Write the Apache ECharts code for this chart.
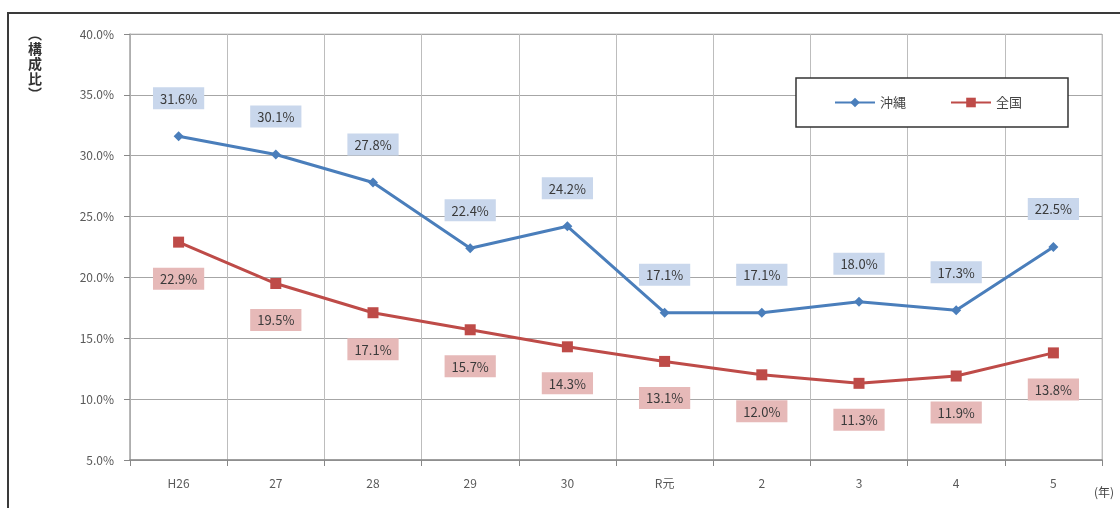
<!DOCTYPE html>
<html><head><meta charset="utf-8">
<script src="https://cdn.jsdelivr.net/npm/echarts@6/dist/echarts.min.js"></script>
<style>html,body{margin:0;padding:0;background:#fff}#c{width:1120px;height:508px}</style>
</head><body><div id="c"></div>
<script>
const categories = ['H26','27','28','29','30','R元','2','3','4','5'];
const okinawa = [31.6,30.1,27.8,22.4,24.2,17.1,17.1,18.0,17.3,22.5];
const zenkoku = [22.9,19.5,17.1,15.7,14.3,13.1,12.0,11.3,11.9,13.8];
const seriesNames = ['沖縄','全国'];
const yTicks = {min:5, max:40, interval:5};

const font = '"Noto Sans CJK JP", "Noto Sans", sans-serif';
const chart = echarts.init(document.getElementById('c'), null, {renderer:'canvas'});
chart.setOption({
  animation:false,
  textStyle:{fontFamily:font},
  grid:{left:130, right:18, top:34, bottom:48, show:true, borderColor:'#c8c8c8', borderWidth:1, outerBoundsMode:'none', containLabel:false},
  legend:{
    data:[{name:seriesNames[0]},{name:seriesNames[1]}],
    right:52, top:78, padding:[18,46,18,38],
    borderColor:'#333', borderWidth:1.5, backgroundColor:'#fff',
    itemGap:44, itemWidth:40, itemHeight:12,
    textStyle:{fontSize:13, color:'#444', fontFamily:font}
  },
  xAxis:{
    type:'category', data:categories, boundaryGap:true,
    axisLine:{lineStyle:{color:'#888', width:1.5}},
    axisTick:{show:true, length:6, lineStyle:{color:'#888'}},
    axisLabel:{color:'#595959', fontSize:12, margin:17},
    splitLine:{show:true, lineStyle:{color:'#bdbdbd', width:1}},
    name:'(年)', nameLocation:'end', nameGap:0,
    nameTextStyle:{color:'#444', fontSize:12, padding:[26,0,0,-8], align:'left', verticalAlign:'top'}
  },
  yAxis:{
    type:'value', min:yTicks.min, max:yTicks.max, interval:yTicks.interval,
    axisLine:{show:true, lineStyle:{color:'#aaa', width:1.5}},
    axisTick:{show:true, length:6, lineStyle:{color:'#888'}},
    axisLabel:{color:'#595959', fontSize:12, margin:16, formatter:v=>v.toFixed(1)+'%'},
    splitLine:{show:true, lineStyle:{color:'#a6a6a6', width:1}}
  },
  graphic:[
    {type:'rect', shape:{x:8,y:13,width:1140,height:520}, style:{fill:'none', stroke:'#3a3a3a', lineWidth:2}, silent:true},
    {type:'text', left:28, top:26, style:{text:'︵\n構\n成\n比\n︶', fontSize:14, fontWeight:'bold', lineHeight:15, fill:'#333', fontFamily:font}}
  ],
  series:[
    {
      name:seriesNames[0], type:'line', data:okinawa,
      symbol:'diamond', symbolSize:10,
      lineStyle:{color:'#4a7ebb', width:3},
      itemStyle:{color:'#4a7ebb'},
      label:{show:true, position:'top', distance:22, formatter:p=>p.value.toFixed(1)+'%',
        backgroundColor:'#c9d7ec', padding:[5,7,4,7], color:'#3a3a3a', fontSize:13, fontFamily:font}
    },
    {
      name:seriesNames[1], type:'line', data:zenkoku,
      symbol:'rect', symbolSize:11,
      lineStyle:{color:'#be4b48', width:3},
      itemStyle:{color:'#be4b48'},
      label:{show:true, position:'bottom', distance:20, formatter:p=>p.value.toFixed(1)+'%',
        backgroundColor:'#e6b9b8', padding:[5,7,4,7], color:'#3a3a3a', fontSize:13, fontFamily:font}
    }
  ]
});
</script></body></html>
